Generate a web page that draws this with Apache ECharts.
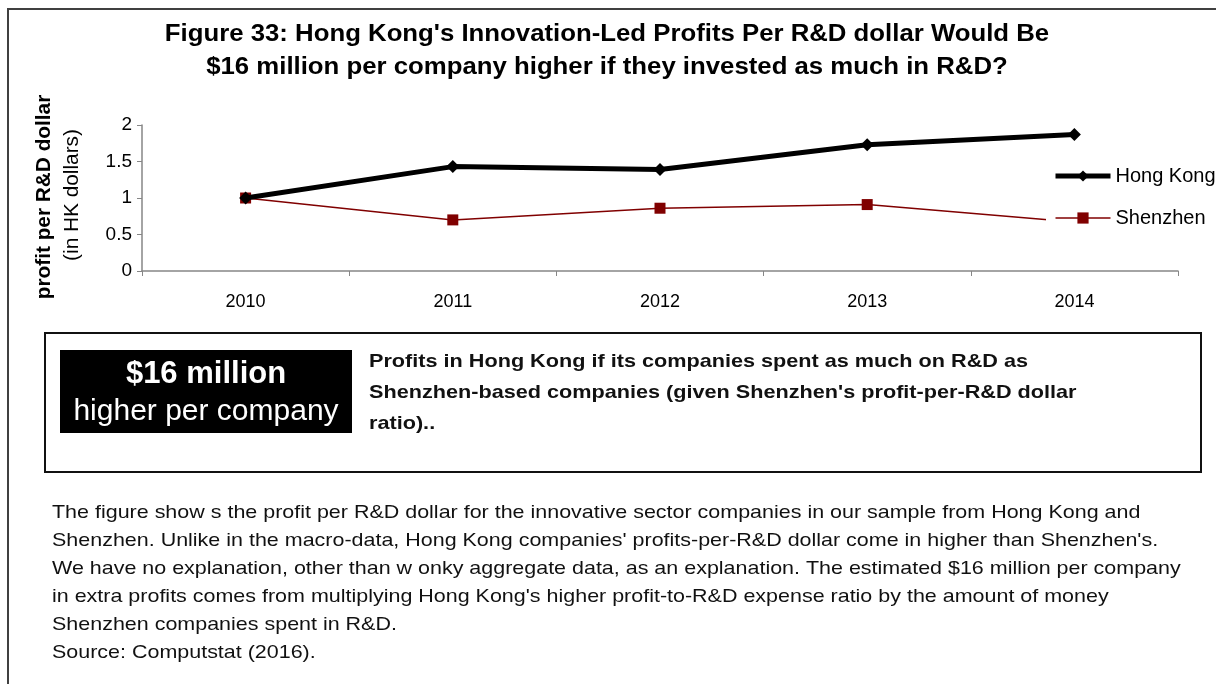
<!DOCTYPE html>
<html><head><meta charset="utf-8">
<script src="https://cdn.jsdelivr.net/npm/echarts@6/dist/echarts.min.js"></script>
<style>html,body{margin:0;padding:0;background:#fff}#c{width:1216px;height:684px}</style>
</head><body><div id="c"></div>
<script>
const categories = ['2010', '2011', '2012', '2013', '2014'];
const hongKong = [1.0, 1.43, 1.39, 1.73, 1.87];
const shenzhen = [1.0, 0.70, 0.86, 0.91, 0.67];
const seriesNames = ['Hong Kong', 'Shenzhen'];
const titleLines = [
  "Figure 33: Hong Kong's Innovation-Led Profits Per R&D dollar Would Be",
  "$16 million per company higher if they invested as much in R&D?"
];
const yAxisTitle = 'profit per R&D dollar';
const yAxisSubtitle = '(in HK dollars)';
const calloutBig = '$16 million';
const calloutSmall = 'higher per company';
const calloutText = [
  'Profits in Hong Kong if its companies spent as much on R&D as',
  "Shenzhen-based companies (given Shenzhen's profit-per-R&D dollar",
  'ratio)..'
];
const noteLines = [
  'The figure show s the profit per R&D dollar for the innovative sector companies in our sample from Hong Kong and',
  "Shenzhen. Unlike in the macro-data, Hong Kong companies' profits-per-R&D dollar come in higher than Shenzhen's.",
  'We have no explanation, other than w onky aggregate data, as an explanation. The estimated $16 million per company',
  "in extra profits comes from multiplying Hong Kong's higher profit-to-R&D expense ratio by the amount of money",
  'Shenzhen companies spent in R&D.',
  'Source: Computstat (2016).'
];

const FF = "'Liberation Sans', Arial, sans-serif";
const chart = echarts.init(document.getElementById('c'));

const graphics = [
  { type: 'polyline', shape: { points: [[8, 684], [8, 9], [1216, 9]] }, style: { stroke: '#404040', lineWidth: 2, fill: null } },
  { type: 'text', x: 44, y: 197, rotation: Math.PI / 2,
    style: { text: yAxisTitle, font: 'bold 20px ' + FF, fill: '#000', align: 'center', verticalAlign: 'middle' }, scaleX: 1.04 },
  { type: 'text', x: 72, y: 195, rotation: Math.PI / 2,
    style: { text: yAxisSubtitle, font: '20px ' + FF, fill: '#000', align: 'center', verticalAlign: 'middle' }, scaleX: 1.04 },
  { type: 'rect', shape: { x: 45, y: 333, width: 1156, height: 139 }, style: { stroke: '#111', lineWidth: 2, fill: '#fff' } },
  { type: 'rect', shape: { x: 60, y: 350, width: 292, height: 83 }, style: { fill: '#000' } },
  { type: 'text', x: 206, y: 374, style: { text: calloutBig, font: 'bold 31px ' + FF, fill: '#fff', align: 'center', verticalAlign: 'middle' } },
  { type: 'text', x: 206, y: 412, style: { text: calloutSmall, font: '30px ' + FF, fill: '#fff', align: 'center', verticalAlign: 'middle' } }
];
titleLines.forEach((t, i) => graphics.push({
  type: 'text', x: 607, y: 35 + i * 33, scaleX: 1.12,
  style: { text: t, font: 'bold 23px ' + FF, fill: '#000', align: 'center', verticalAlign: 'middle' }
}));
calloutText.forEach((t, i) => graphics.push({
  type: 'text', x: 369, y: 362 + i * 31, scaleX: 1.17,
  style: { text: t, font: 'bold 18.5px ' + FF, fill: '#111', align: 'left', verticalAlign: 'middle' }
}));
noteLines.forEach((t, i) => graphics.push({
  type: 'text', x: 52, y: 513 + i * 28, scaleX: 1.13,
  style: { text: t, font: '19px ' + FF, fill: '#111', align: 'left', verticalAlign: 'middle' }
}));

chart.setOption({
  animation: false,
  backgroundColor: '#fff',
  grid: { left: 142, top: 125, width: 1036, height: 146 },
  legend: {
    orient: 'vertical', left: 1046, top: 160,
    data: [
      { name: seriesNames[0], lineStyle: { width: 5, color: '#000' } },
      { name: seriesNames[1], lineStyle: { width: 1.5, color: '#800000' } }
    ],
    itemWidth: 55, itemHeight: 14, itemGap: 22,
    backgroundColor: '#fff', padding: [6, 0, 6, 7],
    textStyle: { fontFamily: FF, fontSize: 20, color: '#000' }
  },
  xAxis: {
    type: 'category', data: categories, boundaryGap: true,
    axisLine: { lineStyle: { color: '#868686', width: 1.5 } },
    axisTick: { show: true, length: 5, lineStyle: { color: '#868686' } },
    axisLabel: { fontFamily: FF, fontSize: 18, color: '#000', margin: 22 },
    splitLine: { show: false }
  },
  yAxis: {
    type: 'value', min: 0, max: 2, interval: 0.5,
    axisLine: { show: true, lineStyle: { color: '#868686', width: 1.5 } },
    axisTick: { show: true, length: 5, lineStyle: { color: '#868686' } },
    axisLabel: { fontFamily: FF, fontSize: 19, color: '#000', margin: 10 },
    splitLine: { show: false }
  },
  series: [
    { name: seriesNames[0], type: 'line', data: hongKong, z: 3,
      symbol: 'diamond', symbolSize: 13,
      lineStyle: { color: '#000', width: 5 }, itemStyle: { color: '#000' } },
    { name: seriesNames[1], type: 'line', data: shenzhen, z: 2,
      symbol: 'rect', symbolSize: 11,
      lineStyle: { color: '#800000', width: 1.5 }, itemStyle: { color: '#800000' } }
  ],
  graphic: graphics
});
</script></body></html>
